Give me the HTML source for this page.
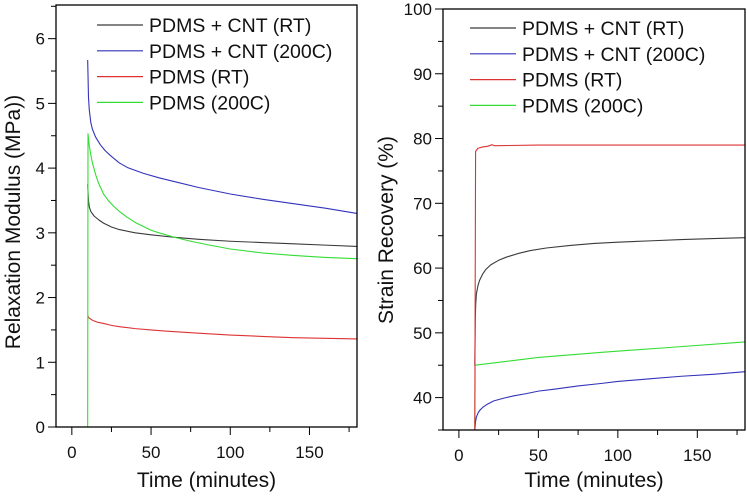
<!DOCTYPE html>
<html><head><meta charset="utf-8">
<style>
html,body{margin:0;padding:0;background:#fff;}
svg{display:block;font-family:"Liberation Sans",Arial,sans-serif;}
</style></head>
<body>
<svg id="chart" width="747" height="496" viewBox="0 0 747 496"></svg>
<script>
const NS='http://www.w3.org/2000/svg';
// ---- Data: left panel (Relaxation Modulus) ----
const leftBlackT=[10,10.5,11,12,14,17,20,25,30,40,50,65,80,100,120,140,160,180];
const leftBlackV=[3.75,3.5,3.4,3.33,3.26,3.2,3.15,3.09,3.05,3.0,2.97,2.93,2.9,2.87,2.85,2.83,2.81,2.79];
const leftBlueT=[10,10.5,11,12,13,15,18,21,25,30,35,45,55,65,80,100,120,140,160,180];
const leftBlueV=[5.67,5.1,4.9,4.7,4.6,4.48,4.36,4.27,4.18,4.08,4.01,3.92,3.85,3.79,3.7,3.6,3.52,3.45,3.38,3.3];
const leftRedT=[10,11,13,16,20,25,30,40,50,60,80,100,120,140,160,180];
const leftRedV=[1.72,1.68,1.65,1.62,1.6,1.57,1.55,1.52,1.5,1.48,1.45,1.42,1.4,1.38,1.37,1.36];
const leftGreenT=[10,10.2,11,12,13,15,17,20,23,26,30,35,40,45,50,55,65,75,85,100,120,140,160,180];
const leftGreenV=[0,4.53,4.35,4.2,4.08,3.9,3.76,3.6,3.5,3.42,3.33,3.24,3.16,3.1,3.04,3.0,2.93,2.87,2.82,2.75,2.69,2.65,2.62,2.6];
// ---- Data: right panel (Strain Recovery) ----
const rightRedT=[10,10.5,12,15,18,21,22,25,50,100,180];
const rightRedV=[35,78,78.5,78.7,78.8,79.05,78.9,78.9,79,79,79];
const rightBlackT=[10,10.3,10.6,11,12,13,15,17,20,25,30,38,45,55,70,85,100,120,140,160,180];
const rightBlackV=[45,52,54.5,56,57.3,58.1,59.1,59.8,60.5,61.2,61.7,62.3,62.7,63.1,63.5,63.8,64,64.2,64.4,64.55,64.7];
const rightBlueT=[10,10.5,11,12,13,15,18,22,28,35,42,50,60,75,90,100,120,140,160,180];
const rightBlueV=[35,36.3,37,37.6,38,38.5,39,39.5,39.9,40.3,40.6,41,41.3,41.8,42.2,42.5,42.9,43.3,43.6,44];
const rightGreenT=[10,10.2,20,50,90,130,180];
const rightGreenV=[35,45,45.3,46.2,47,47.7,48.6];
const xTicks=[0,50,100,150];
const leftYTicks=[0,1,2,3,4,5,6];
const rightYTicks=[40,50,60,70,80,90,100];
const legendLabels=['PDMS + CNT (RT)','PDMS + CNT (200C)','PDMS (RT)','PDMS (200C)'];
const colors=['#3a3a3a','#3333bb','#dd3333','#33dd33'];

const svg=document.getElementById('chart');
function el(tag,attrs,parent){const e=document.createElementNS(NS,tag);for(const k in attrs)e.setAttribute(k,attrs[k]);(parent||svg).appendChild(e);return e;}

function panel(cfg){
  const g=el('g',{});
  
  
  const sx=v=>cfg.x0+(v-cfg.xmin)/(cfg.xmax-cfg.xmin)*(cfg.x1-cfg.x0);
  const sy=v=>cfg.y1-(v-cfg.ymin)/(cfg.ymax-cfg.ymin)*(cfg.y1-cfg.y0);
  cfg.series.forEach((s,i)=>{
    const p=el('polyline',{points:s.t.map((t,j)=>sx(t).toFixed(2)+','+sy(s.v[j]).toFixed(2)).join(' '),fill:'none',stroke:s.c,'stroke-width':1.1,'stroke-linejoin':'round'},g);
    
    
  });
  const f=el('rect',{x:cfg.x0,y:cfg.y0,width:cfg.x1-cfg.x0,height:cfg.y1-cfg.y0,fill:'none',stroke:'#000','stroke-width':1.3},g);
  
  
  for(let v=0;v<=cfg.xmax;v+=25){
    const major=v%50===0;
    el('line',{x1:sx(v),x2:sx(v),y1:cfg.y1,y2:cfg.y1+(major?8:5),stroke:'#000','stroke-width':1},g);
  }
  xTicks.forEach(v=>{
    const t=el('text',{x:sx(v),y:cfg.y1+31,'text-anchor':'middle','font-size':17,fill:'#111'},g);
    t.textContent=v;
    
    
  });
  const st=cfg.ystep/2;
  for(let v=cfg.ymin;v<=cfg.ymax+1e-9;v+=st){
    const major=Math.abs((v/cfg.ystep)-Math.round(v/cfg.ystep))<1e-6;
    el('line',{x1:cfg.x0,x2:cfg.x0-(major?8:5),y1:sy(v),y2:sy(v),stroke:'#000','stroke-width':1},g);
  }
  cfg.yticks.forEach(v=>{
    const t=el('text',{x:cfg.x0-11,y:sy(v)+6,'text-anchor':'end','font-size':17,fill:'#111'},g);
    t.textContent=v;
    
    
  });
  const xt=el('text',{x:(cfg.x0+cfg.x1)/2,y:487,'text-anchor':'middle','font-size':21,fill:'#111'},g);
  xt.textContent='Time (minutes)';
  
  
  const yt=el('text',{x:0,y:0,'text-anchor':'middle','font-size':21,fill:'#111',transform:'translate('+cfg.ytx+','+cfg.yty+') rotate(-90)'},g);
  yt.textContent=cfg.ytitle;
  
  
  legendLabels.forEach((lab,i)=>{
    const y=cfg.ly+i*25.8;
    const lg=el('g',{},g);
    
    
    el('line',{x1:cfg.lx,x2:cfg.lx+46,y1:y,y2:y,stroke:colors[i],'stroke-width':1.2},lg);
    const t=el('text',{x:cfg.lx+52,y:y+7,'font-size':19.5,fill:'#111'},lg);
    t.textContent=lab;
  });
}

panel({name:'relaxation-modulus-panel',x0:56,x1:357,y0:5,y1:427,xmin:-10,xmax:180,ymin:0,ymax:6.52,ystep:1,yticks:leftYTicks,
  ytitle:'Relaxation Modulus (MPa))',ytx:20,yty:222,lx:97,ly:25,
  series:[
    {t:leftRedT,v:leftRedV,c:colors[2],n:'line-pdms-rt'},
    {t:leftBlackT,v:leftBlackV,c:colors[0],n:'line-pdms-cnt-rt'},
    {t:leftBlueT,v:leftBlueV,c:colors[1],n:'line-pdms-cnt-200c'},
    {t:leftGreenT,v:leftGreenV,c:colors[3],n:'line-pdms-200c'}
  ]});
panel({name:'strain-recovery-panel',x0:443,x1:745,y0:9,y1:430,xmin:-10,xmax:180,ymin:35,ymax:100,ystep:10,yticks:rightYTicks,
  ytitle:'Strain Recovery (%)',ytx:393,yty:230,lx:470,ly:28,
  series:[
    {t:rightGreenT,v:rightGreenV,c:colors[3],n:'line-pdms-200c'},
    {t:rightBlueT,v:rightBlueV,c:colors[1],n:'line-pdms-cnt-200c'},
    {t:rightBlackT,v:rightBlackV,c:colors[0],n:'line-pdms-cnt-rt'},
    {t:rightRedT,v:rightRedV,c:colors[2],n:'line-pdms-rt'}
  ]});
</script>
</body></html>
